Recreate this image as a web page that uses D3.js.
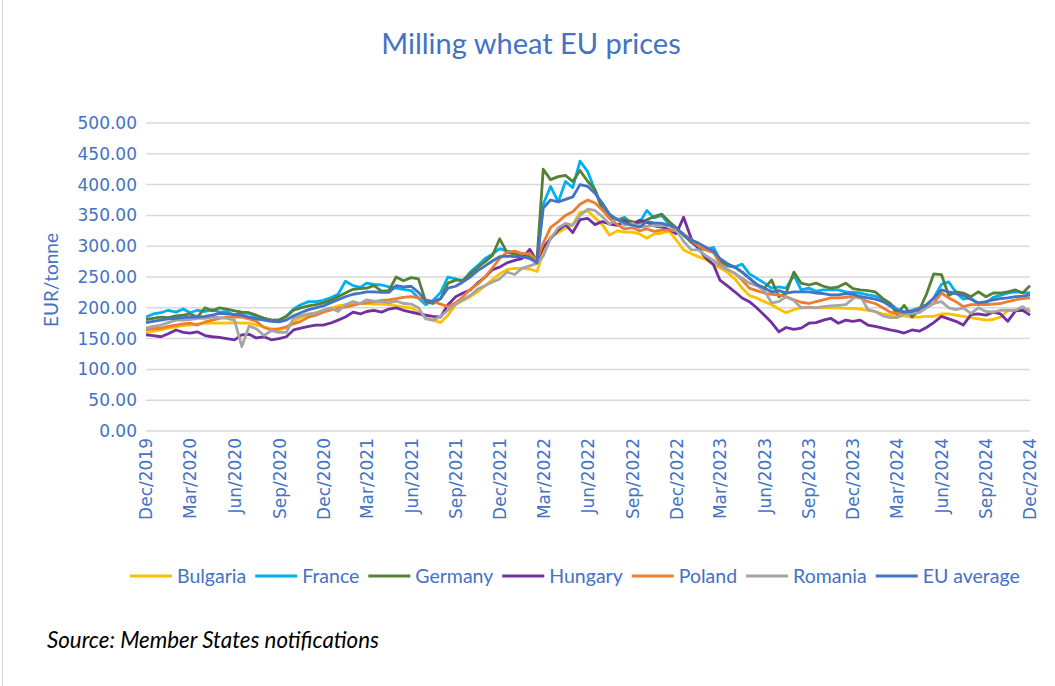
<!DOCTYPE html>
<html lang="en">
  <head>
    <meta charset="UTF-8" />
    <title>Milling wheat EU prices</title>
    <script src="https://cdn.jsdelivr.net/npm/d3@7"></script>
    <style>
      html,
      body {
        margin: 0;
        padding: 0;
        background: #fff;
      }
      svg {
        display: block;
      }
    </style>
  </head>
  <body>
    <svg width="1055" height="686"></svg>
    <script>
      // twice-monthly readings, 1 Dec 2019 -> 1 Dec 2024 (121 points)
      const bulgaria = [
        159, 162, 164, 167, 169, 171, 172, 174, 175, 175, 175, 175, 176, 175, 175, 172, 169, 166, 164, 168,
        178, 184, 189, 192, 196, 199, 203, 205, 207, 207, 207, 206, 206, 205, 203, 201, 200, 193, 184, 180,
        176, 188, 205, 212, 218, 226, 236, 246, 255, 262, 264, 264, 263, 259, 290, 315, 322, 329, 335, 355,
        357, 346, 335, 318, 325, 323, 323, 320, 313, 320, 321, 325, 310, 294, 288, 283, 278, 270, 265, 258,
        247, 232, 220, 216, 210, 205, 198, 192, 197, 200, 200, 200, 200, 200, 200, 199, 199, 198, 196, 194,
        190, 188, 187, 187, 185, 185, 186, 186, 190, 190, 188, 186, 184, 182, 180, 181, 185, 195, 196, 196,
        198
      ];
      const france = [
        185, 190, 192, 196, 193, 198, 192, 196, 194, 197, 193, 194, 188, 192, 191, 186, 183, 180, 180, 186,
        198, 205, 210, 210, 212, 216, 222, 243, 236, 233, 240, 238, 237, 234, 232, 230, 228, 216, 205, 212,
        225, 250, 247, 243, 258, 268, 280, 287, 296, 292, 290, 288, 285, 275, 368, 397, 372, 405, 395, 438,
        421, 390, 362, 348, 343, 347, 335, 338, 358, 346, 350, 335, 328, 320, 306, 297, 294, 298, 278, 268,
        266, 271, 255, 248, 240, 232, 234, 232, 253, 229, 232, 227, 229, 229, 229, 226, 225, 224, 221, 219,
        214, 207, 198, 193, 196, 200, 205, 216, 238, 242, 225, 214, 216, 205, 208, 217, 220, 224, 226, 225,
        224
      ];
      const germany = [
        181, 183, 185, 184, 187, 188, 190, 185, 200, 195, 200, 198, 195, 193, 192, 188, 183, 180, 180, 186,
        196, 200, 203, 205, 208, 212, 218, 224, 230, 231, 232, 236, 227, 228, 250, 244, 249, 247, 210, 207,
        215, 240, 245, 245, 255, 265, 275, 285, 312, 290, 287, 285, 282, 277, 425, 408, 413, 415, 405, 423,
        405, 392, 359, 348, 343, 343, 340, 338, 343, 348, 352, 340, 330, 318, 307, 299, 294, 290, 276, 270,
        266, 258, 248, 238, 232, 245, 218, 224, 258, 240, 237, 240, 235, 232, 234, 240, 231, 229, 228, 226,
        215, 207, 190, 204, 185, 196, 222, 255, 254, 220, 226, 224, 218, 226, 218, 224, 224, 226, 229, 224,
        236
      ];
      const hungary = [
        156, 155, 153, 158, 164, 160, 159, 161, 155, 153, 152, 150, 148, 156, 157, 151, 153, 148, 150, 153,
        164, 167, 170, 172, 172, 175, 180, 185, 193, 190, 194, 196, 193, 198, 200, 196, 193, 190, 188, 186,
        185, 205, 218, 224, 229, 240, 250, 262, 266, 273, 277, 280, 295, 276, 298, 312, 326, 335, 322, 343,
        345, 335, 340, 336, 334, 340, 335, 342, 339, 333, 331, 327, 320, 347, 312, 296, 280, 270, 245, 236,
        226, 216, 210, 200, 188, 176, 161, 168, 165, 167, 175, 176, 180, 183, 175, 180, 178, 180, 172, 170,
        167, 164, 162, 159, 164, 162, 168, 176, 186, 182, 178, 172, 189, 190, 188, 193, 190, 178, 195, 196,
        188
      ];
      const poland = [
        164, 166, 167, 170, 172, 174, 175, 172, 177, 180, 183, 185, 185, 185, 182, 178, 168, 164, 166, 169,
        174, 178, 185, 188, 193, 196, 199, 201, 204, 207, 208, 210, 212, 213, 215, 217, 218, 216, 213, 210,
        206, 202, 208, 218, 230, 238, 250, 265, 280, 290, 292, 288, 288, 278, 305, 330, 340, 350, 356, 368,
        375, 370, 359, 345, 335, 328, 330, 325, 328, 324, 326, 326, 325, 320, 310, 300, 294, 290, 272, 262,
        256, 245, 232, 228, 224, 222, 221, 218, 213, 209, 207, 210, 213, 216, 216, 217, 218, 216, 210, 207,
        200, 193, 191, 191, 193, 200, 203, 207, 224, 216, 210, 202, 205, 205, 205, 206, 207, 210, 213, 215,
        216
      ];
      const romania = [
        167, 170, 172, 176, 180, 180, 181, 183, 183, 185, 184, 183, 180, 137, 170, 166, 155, 163, 160, 160,
        183, 187, 190, 191, 196, 200, 194, 205, 210, 207, 213, 211, 210, 208, 211, 207, 206, 200, 182, 180,
        186, 196, 206, 213, 220, 230, 236, 242, 247, 258, 254, 264, 268, 272, 284, 312, 330, 337, 334, 350,
        360, 358, 348, 336, 345, 334, 337, 332, 332, 334, 333, 334, 326, 308, 294, 294, 284, 277, 268, 262,
        256, 248, 240, 236, 228, 208, 210, 218, 212, 200, 201, 200, 202, 203, 204, 205, 215, 220, 197, 194,
        187, 184, 184, 190, 191, 192, 200, 207, 210, 200, 197, 200, 191, 200, 194, 193, 196, 196, 196, 202,
        193
      ];
      const euAverage = [
        176, 178, 180, 182, 183, 184, 185, 185, 186, 188, 191, 190, 189, 188, 185, 182, 180, 178, 177, 180,
        187, 192, 197, 200, 203, 208, 213, 218, 222, 224, 226, 226, 225, 225, 236, 234, 235, 225, 212, 210,
        215, 232, 235, 242, 250, 260, 268, 276, 283, 284, 283, 283, 280, 273, 362, 375, 372, 376, 380, 400,
        397, 386, 370, 352, 343, 338, 334, 331, 340, 338, 337, 334, 330, 318, 310, 305, 298, 292, 280, 272,
        266, 258, 248, 238, 232, 226, 228, 224, 226, 226, 226, 224, 223, 221, 221, 223, 222, 218, 216, 214,
        210, 203, 196, 193, 194, 198, 205, 215, 229, 226, 223, 220, 214, 208, 210, 213, 215, 216, 218, 219,
        221
      ];

      const seriesNames = ['Bulgaria', 'France', 'Germany', 'Hungary', 'Poland', 'Romania', 'EU average'];
      const seriesValues = [bulgaria, france, germany, hungary, poland, romania, euAverage];
      const seriesColors = ['#FFC000', '#00B0F0', '#538135', '#7030A0', '#ED7D31', '#A5A5A5', '#4472C4'];

      const xTickLabels = [
        'Dec/2019', 'Mar/2020', 'Jun/2020', 'Sep/2020', 'Dec/2020', 'Mar/2021', 'Jun/2021',
        'Sep/2021', 'Dec/2021', 'Mar/2022', 'Jun/2022', 'Sep/2022', 'Dec/2022', 'Mar/2023',
        'Jun/2023', 'Sep/2023', 'Dec/2023', 'Mar/2024', 'Jun/2024', 'Sep/2024', 'Dec/2024'
      ];
      const yTicks = [0, 50, 100, 150, 200, 250, 300, 350, 400, 450, 500];

      // index -> date (1st and 16th of each month)
      function pointDate(i) {
        return new Date(2019, 11 + Math.floor(i / 2), i % 2 ? 16 : 1);
      }

      const labelBlue = '#4472C4';
      const plotLeft = 146,
        plotRight = 1030,
        plotTop = 123,
        plotBottom = 431;

      const svg = d3.select('svg');

      svg
        .append('line')
        .attr('x1', 2.5)
        .attr('x2', 2.5)
        .attr('y1', 0)
        .attr('y2', 686)
        .style('stroke', '#d9d9d9');

      const parseTick = d3.timeParse('%b/%Y');
      const tickDates = xTickLabels.map(parseTick);

      const XScale = d3
        .scaleTime()
        .domain([tickDates[0], tickDates[tickDates.length - 1]])
        .range([plotLeft, plotRight]);
      const YScale = d3
        .scaleLinear()
        .domain([0, 500])
        .range([plotBottom, plotTop]);

      // gridlines
      svg
        .append('g')
        .selectAll('line')
        .data(yTicks)
        .enter()
        .append('line')
        .attr('x1', plotLeft)
        .attr('x2', plotRight)
        .attr('y1', d => YScale(d))
        .attr('y2', d => YScale(d))
        .style('stroke', '#d9d9d9')
        .style('stroke-width', 1.5);

      const YAxis = d3
        .axisLeft(YScale)
        .tickValues(yTicks)
        .tickFormat(d3.format('.2f'))
        .tickSize(0)
        .tickPadding(9);
      const yAxisG = svg
        .append('g')
        .attr('transform', `translate(${plotLeft},0)`)
        .call(YAxis);
      yAxisG.select('.domain').remove();
      yAxisG
        .selectAll('text')
        .style('font-family', 'DejaVu Sans')
        .style('font-size', '17px')
        .style('fill', labelBlue);

      const XAxis = d3
        .axisBottom(XScale)
        .tickValues(tickDates)
        .tickFormat((d, i) => xTickLabels[i])
        .tickSize(0);
      const xAxisG = svg
        .append('g')
        .attr('transform', `translate(0,${plotBottom})`)
        .call(XAxis);
      xAxisG.select('.domain').remove();
      xAxisG
        .selectAll('text')
        .attr('transform', 'rotate(-90)')
        .attr('x', -7)
        .attr('y', 0)
        .attr('dy', '0.35em')
        .style('text-anchor', 'end')
        .style('font-family', 'DejaVu Sans')
        .style('font-size', '17px')
        .style('fill', labelBlue);

      // series
      const line = d3
        .line()
        .x((d, i) => XScale(pointDate(i)))
        .y(d => YScale(d));

      svg
        .append('g')
        .selectAll('path')
        .data(seriesValues)
        .enter()
        .append('path')
        .attr('d', d => line(d))
        .style('fill', 'none')
        .style('stroke', (d, i) => seriesColors[i])
        .style('stroke-width', 2.8)
        .style('stroke-linejoin', 'round');

      // title
      svg
        .append('text')
        .attr('x', 531)
        .attr('y', 54)
        .attr('text-anchor', 'middle')
        .style('font-family', 'Lato')
        .style('font-size', '29px')
        .style('fill', labelBlue)
        .text('Milling wheat EU prices');

      // y axis title
      svg
        .append('text')
        .attr('transform', 'translate(58,280) rotate(-90)')
        .attr('text-anchor', 'middle')
        .style('font-family', 'Lato')
        .style('font-size', '19px')
        .style('fill', labelBlue)
        .text('EUR/tonne');

      // legend
      const legend = svg.append('g');
      let lx = 0;
      seriesNames.forEach((name, i) => {
        const item = legend.append('g').attr('transform', `translate(${lx},0)`);
        item
          .append('line')
          .attr('x1', 0)
          .attr('x2', 42)
          .style('stroke', seriesColors[i])
          .style('stroke-width', 3);
        const t = item
          .append('text')
          .attr('x', 47)
          .attr('dy', '0.35em')
          .style('font-family', 'Lato')
          .style('font-size', '19.5px')
          .style('fill', labelBlue)
          .text(name);
        lx += 47 + t.node().getComputedTextLength() + 9;
      });
      legend.attr('transform', `translate(${130},576)`);

      // source note
      svg
        .append('text')
        .attr('x', 47)
        .attr('y', 648)
        .style('font-family', 'Lato')
        .style('font-style', 'italic')
        .style('font-size', '22.3px')
        .style('fill', '#000')
        .text('Source: Member States notifications');
    </script>
  </body>
</html>
